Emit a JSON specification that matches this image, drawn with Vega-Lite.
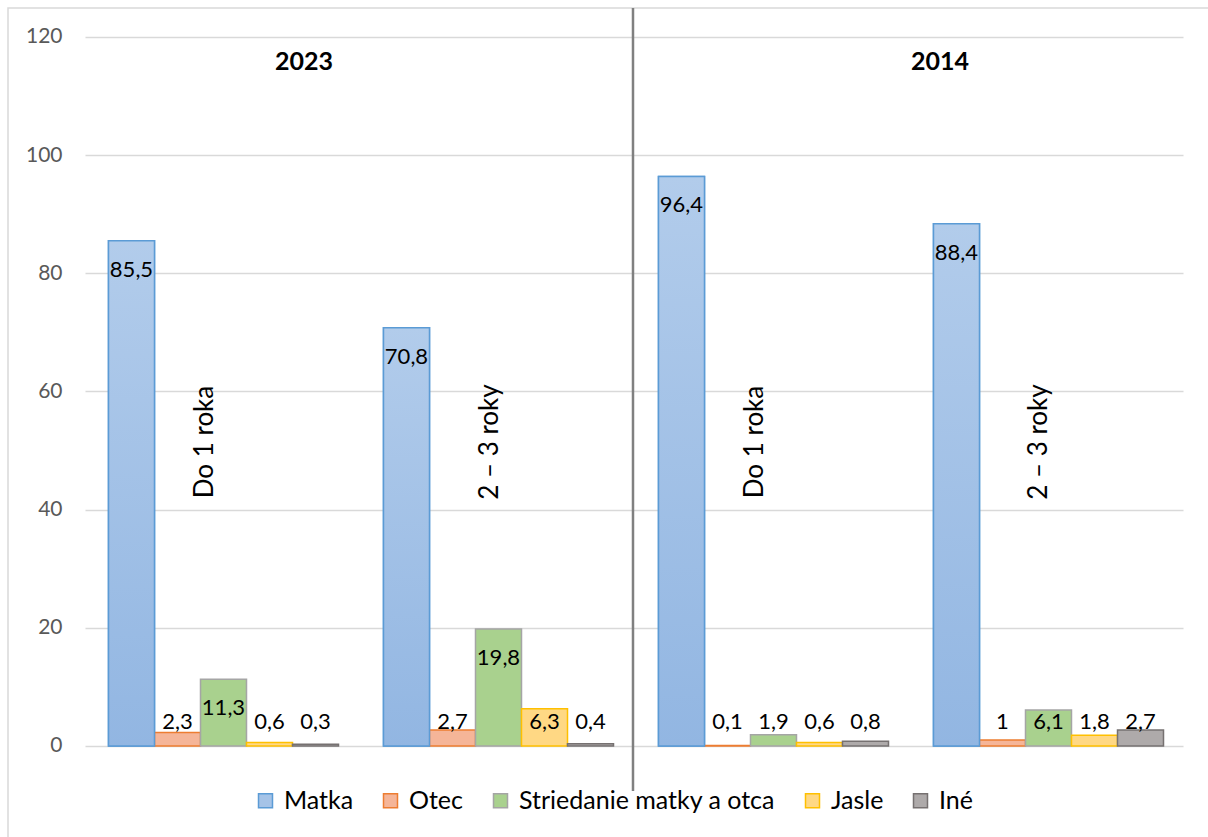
{
  "$schema": "https://vega.github.io/schema/vega-lite/v6.json",
  "autosize": "none",
  "width": 1204,
  "height": 833,
  "padding": {"left": 8, "top": 8, "right": -4, "bottom": -4},
  "background": "white",
  "config": {
    "font": "Lato",
    "view": {"stroke": "#d9d9d9", "strokeWidth": 1.5},
    "locale": {"number": {"decimal": ",", "thousands": " ", "grouping": [3], "currency": ["", " €"]}}
  },
  "datasets": {
    "hodnoty": [
      {"skupina": "2023 Do 1 roka", "kategoria": "Matka", "hodnota": 85.5},
      {"skupina": "2023 Do 1 roka", "kategoria": "Otec", "hodnota": 2.3},
      {"skupina": "2023 Do 1 roka", "kategoria": "Striedanie matky a otca", "hodnota": 11.3},
      {"skupina": "2023 Do 1 roka", "kategoria": "Jasle", "hodnota": 0.6},
      {"skupina": "2023 Do 1 roka", "kategoria": "Iné", "hodnota": 0.3},
      {"skupina": "2023 2 – 3 roky", "kategoria": "Matka", "hodnota": 70.8},
      {"skupina": "2023 2 – 3 roky", "kategoria": "Otec", "hodnota": 2.7},
      {"skupina": "2023 2 – 3 roky", "kategoria": "Striedanie matky a otca", "hodnota": 19.8},
      {"skupina": "2023 2 – 3 roky", "kategoria": "Jasle", "hodnota": 6.3},
      {"skupina": "2023 2 – 3 roky", "kategoria": "Iné", "hodnota": 0.4},
      {"skupina": "2014 Do 1 roka", "kategoria": "Matka", "hodnota": 96.4},
      {"skupina": "2014 Do 1 roka", "kategoria": "Otec", "hodnota": 0.1},
      {"skupina": "2014 Do 1 roka", "kategoria": "Striedanie matky a otca", "hodnota": 1.9},
      {"skupina": "2014 Do 1 roka", "kategoria": "Jasle", "hodnota": 0.6},
      {"skupina": "2014 Do 1 roka", "kategoria": "Iné", "hodnota": 0.8},
      {"skupina": "2014 2 – 3 roky", "kategoria": "Matka", "hodnota": 88.4},
      {"skupina": "2014 2 – 3 roky", "kategoria": "Otec", "hodnota": 1},
      {"skupina": "2014 2 – 3 roky", "kategoria": "Striedanie matky a otca", "hodnota": 6.1},
      {"skupina": "2014 2 – 3 roky", "kategoria": "Jasle", "hodnota": 1.8},
      {"skupina": "2014 2 – 3 roky", "kategoria": "Iné", "hodnota": 2.7}
    ],
    "vek": [
      {"skupina": "2023 Do 1 roka", "vek": "Do 1 roka"},
      {"skupina": "2023 2 – 3 roky", "vek": "2 – 3 roky"},
      {"skupina": "2014 Do 1 roka", "vek": "Do 1 roka"},
      {"skupina": "2014 2 – 3 roky", "vek": "2 – 3 roky"}
    ]
  },
  "layer": [
    {
      "data": {"name": "hodnoty"},
      "mark": {"type": "bar", "strokeWidth": 1.5},
      "encoding": {
        "x": {"field": "skupina", "type": "nominal", "sort": ["2023 Do 1 roka", "2023 2 – 3 roky", "2014 Do 1 roka", "2014 2 – 3 roky"], "scale": {"domain": ["2023 Do 1 roka", "2023 2 – 3 roky", "2014 Do 1 roka", "2014 2 – 3 roky"], "paddingInner": 0.1636, "paddingOuter": 0.2709, "align": 0.6745}, "axis": null},
        "xOffset": {"field": "kategoria", "type": "nominal", "scale": {"domain": ["Matka", "Otec", "Striedanie matky a otca", "Jasle", "Iné"], "paddingInner": 0, "paddingOuter": 0}},
        "y": {"field": "hodnota", "type": "quantitative", "scale": {"domain": [-16.079, 124.908], "nice": false, "zero": false},
          "axis": {"orient": "left", "offset": -1175, "tickSize": 1098, "tickColor": "#d9d9d9", "tickWidth": 1.5, "domain": false, "grid": false, "values": [0, 20, 40, 60, 80, 100, 120], "labelPadding": 23, "labelFontSize": 21, "labelColor": "#595959", "labelFont": "Lato", "title": null}},
        "fill": {"field": "kategoria", "type": "nominal", "scale": {"domain": ["Matka", "Otec", "Striedanie matky a otca", "Jasle", "Iné"], "range": ["#a5c3e7", "#f5b598", "#a9d18e", "#ffd884", "#aeaaaa"]},
          "legend": {"title": null, "orient": "none", "legendX": 245, "legendY": 780, "direction": "horizontal", "symbolType": "square", "symbolSize": 196, "symbolStrokeWidth": 1.5, "labelFontSize": 25, "labelColor": "#000000", "labelOffset": 6, "labelLimit": 600, "columnPadding": 24, "padding": 0, "labelFont": "Lato"}},
        "stroke": {"field": "kategoria", "type": "nominal", "scale": {"domain": ["Matka", "Otec", "Striedanie matky a otca", "Jasle", "Iné"], "range": ["#5b9bd5", "#ed7d31", "#a5a5a5", "#ffc000", "#767171"]},
          "legend": {"title": null, "orient": "none", "legendX": 245, "legendY": 780, "direction": "horizontal", "symbolType": "square", "symbolSize": 196, "symbolStrokeWidth": 1.5, "labelFontSize": 25, "labelColor": "#000000", "labelOffset": 6, "labelLimit": 600, "columnPadding": 24, "padding": 0, "labelFont": "Lato"}}
      }
    },
    {
      "data": {"name": "hodnoty"},
      "transform": [{"filter": "datum.kategoria == 'Matka'"}],
      "mark": {"type": "bar", "strokeWidth": 1.5, "stroke": "#5b9bd5",
        "fill": {"gradient": "linear", "x1": 0, "y1": 0, "x2": 0, "y2": 1, "stops": [{"offset": 0, "color": "#b2cceb"}, {"offset": 1, "color": "#92b6e2"}]}},
      "encoding": {
        "x": {"field": "skupina", "type": "nominal"},
        "xOffset": {"field": "kategoria", "type": "nominal"},
        "y": {"field": "hodnota", "type": "quantitative"}
      }
    },
    {
      "data": {"name": "hodnoty"},
      "transform": [{"filter": "datum.hodnota >= 9"}],
      "mark": {"type": "text", "baseline": "middle", "dy": 29, "fontSize": 22, "color": "#000000"},
      "encoding": {
        "x": {"field": "skupina", "type": "nominal"},
        "xOffset": {"field": "kategoria", "type": "nominal"},
        "y": {"field": "hodnota", "type": "quantitative"},
        "text": {"field": "hodnota", "type": "quantitative", "format": ".1~f"}
      }
    },
    {
      "data": {"name": "hodnoty"},
      "transform": [{"filter": "datum.hodnota < 9"}],
      "mark": {"type": "text", "baseline": "middle", "dy": -23.5, "fontSize": 22, "color": "#000000"},
      "encoding": {
        "x": {"field": "skupina", "type": "nominal"},
        "xOffset": {"field": "kategoria", "type": "nominal"},
        "y": {"datum": 0},
        "text": {"field": "hodnota", "type": "quantitative", "format": ".1~f"}
      }
    },
    {
      "data": {"name": "vek"},
      "transform": [{"filter": "datum.vek == 'Do 1 roka'"}],
      "mark": {"type": "text", "angle": 270, "align": "center", "baseline": "alphabetic", "dy": -10.5, "fontSize": 26, "color": "#000000"},
      "encoding": {
        "x": {"field": "skupina", "type": "nominal"},
        "y": {"datum": 51.45},
        "text": {"field": "vek"}
      }
    },
    {
      "data": {"name": "vek"},
      "transform": [{"filter": "datum.vek != 'Do 1 roka'"}],
      "mark": {"type": "text", "angle": 270, "align": "center", "baseline": "alphabetic", "dy": -1, "fontSize": 26, "color": "#000000"},
      "encoding": {
        "x": {"field": "skupina", "type": "nominal"},
        "y": {"datum": 51.45},
        "text": {"field": "vek"}
      }
    },
    {
      "data": {"values": [{"skupina": "2023 Do 1 roka", "rok": "2023"}]},
      "mark": {"type": "text", "baseline": "middle", "dx": 80.5, "fontSize": 25, "fontWeight": "bold", "color": "#000000"},
      "encoding": {
        "x": {"field": "skupina", "type": "nominal"},
        "y": {"datum": 115.77},
        "text": {"field": "rok"}
      }
    },
    {
      "data": {"values": [{"skupina": "2014 Do 1 roka", "rok": "2014"}]},
      "mark": {"type": "text", "baseline": "middle", "dx": 166.5, "fontSize": 25, "fontWeight": "bold", "color": "#000000"},
      "encoding": {
        "x": {"field": "skupina", "type": "nominal"},
        "y": {"datum": 115.77},
        "text": {"field": "rok"}
      }
    },
    {
      "data": {"values": [{"skupina": "2014 Do 1 roka"}]},
      "mark": {"type": "rule", "color": "#808080", "strokeWidth": 2.5, "xOffset": -25.5},
      "encoding": {
        "x": {"field": "skupina", "type": "nominal", "bandPosition": 0},
        "y": {"datum": 124.9},
        "y2": {"datum": -7.6}
      }
    }
  ]
}
